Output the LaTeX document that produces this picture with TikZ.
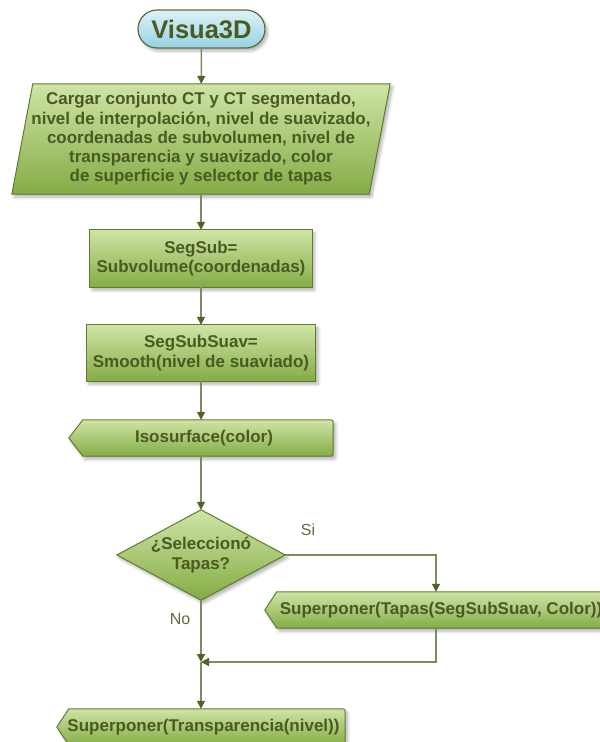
\documentclass[tikz,border=0pt]{standalone}
\usepackage{fontspec}
\setmainfont{Liberation Sans}
\usetikzlibrary{arrows.meta,calc,backgrounds,shapes.misc,shadows.blur}

\definecolor{txt}{HTML}{4A5A22}
\definecolor{edge}{HTML}{5E7C2C}
\definecolor{gtop}{HTML}{D0E4A6}
\definecolor{gbot}{HTML}{84AC45}
\definecolor{btop}{HTML}{DDF3F8}
\definecolor{bbot}{HTML}{96D2E2}
\definecolor{bedge}{HTML}{5E6A3A}
\definecolor{wire}{HTML}{7D8C5F}
\definecolor{tipc}{HTML}{4F6326}
\definecolor{lbl}{HTML}{5F6B3C}

% outline of a "display" box: pointed on the left, rounded on the right
\newcommand\dispoutline[2]{%
  \path[greenfill] (#1.west) -- ($(#1.north west)+(#2,0)$)
    -- ($(#1.north east)+(-5,0)$) .. controls (#1.north east) .. ($(#1.north east)+(0,5)$)
    -- ($(#1.south east)+(0,-5)$) .. controls (#1.south east) .. ($(#1.south east)+(-5,0)$)
    -- ($(#1.south west)+(#2,0)$) -- cycle;}

\begin{document}
\begin{tikzpicture}[x=1pt,y=-1pt,
  lab/.style={font=\bfseries\fontsize{17}{19.3}\selectfont, text=txt,
              align=center, inner sep=0pt, draw=none},
  softshadow/.style={blur shadow={shadow xshift=2.5pt, shadow yshift=-3pt,
              shadow opacity=30, shadow blur steps=6, shadow blur radius=3pt}},
  greenfill/.style={draw=edge, line width=1pt, top color=gtop,
              bottom color=gbot, softshadow},
  flow/.style={draw=wire, line width=1.4pt,
              -{Triangle[length=8pt,width=8pt,color=tipc]}},
  answer/.style={font=\fontsize{16}{19}\selectfont, text=lbl, inner sep=0pt}
]
\useasboundingbox (0,0) rectangle (600,742);

% ---- nodes -------------------------------------------------------------
\node[rounded rectangle, draw=bedge, line width=1.2pt, top color=btop,
      bottom color=bbot, softshadow, minimum width=127pt, minimum height=38pt,
      inner sep=0pt, font=\bfseries\fontsize{25.5}{30}\selectfont, text=txt]
      (start) at (201.5,29) {Visua3D};

\node[lab, minimum width=378pt, minimum height=110pt] (load) at (201,139)
  {Cargar conjunto CT y CT segmentado,\\
   nivel de interpolación, nivel de suavizado,\\
   coordenadas de subvolumen, nivel de\\
   transparencia y suavizado, color\\
   de superficie y selector de tapas};

\node[lab, minimum width=222pt, minimum height=57pt] (sub) at (201,258.5)
  {SegSub=\\Subvolume(coordenadas)};

\node[lab, minimum width=229pt, minimum height=56pt] (suav) at (201,353)
  {SegSubSuav=\\Smooth(nivel de suaviado)};

\node[lab, minimum width=264pt, minimum height=36pt] (iso) at (201,438)
  {\hspace{6pt}Isosurface(color)};

\node[lab, minimum width=168pt, minimum height=90pt] (dec) at (201,555)
  {¿Seleccionó\\Tapas?};

\node[lab, minimum width=342pt, minimum height=36pt] (tapas) at (436,610)
  {\hspace{10pt}Superponer(Tapas(SegSubSuav, Color))};

\node[lab, minimum width=288pt, minimum height=36pt] (final) at (201,727)
  {\hspace{5pt}Superponer(Transparencia(nivel))};

\node[answer] (si) at (308,530) {Si};
\node[answer] (no) at (180,619) {No};

\coordinate (merge) at (201,662);

% ---- shape outlines, behind the text ------------------------------------
\begin{scope}[on background layer]
  \path[greenfill] (load.south west) -- ($(load.north west)+(21,0)$)
    -- (load.north east) -- ($(load.south east)+(-21,0)$) -- cycle;
  \path[greenfill] (sub.north west) rectangle (sub.south east);
  \path[greenfill] (suav.north west) rectangle (suav.south east);
  \dispoutline{iso}{14}
  \path[greenfill] (dec.north) -- (dec.east) -- (dec.south) -- (dec.west) -- cycle;
  \dispoutline{tapas}{12}
  \dispoutline{final}{12}
\end{scope}

% ---- connectors ----------------------------------------------------------
\draw[flow] (start) -- (load);
\draw[flow] (load) -- (sub);
\draw[flow] (sub) -- (suav);
\draw[flow] (suav) -- (iso);
\draw[flow] (iso) -- (dec);
\draw[flow] (dec.east) -| (tapas.north);
\draw[flow] (dec.south) -- (merge);
\draw[flow] (tapas.south) |- (merge);
\draw[flow] (merge) -- (final.north);
\end{tikzpicture}
\end{document}
